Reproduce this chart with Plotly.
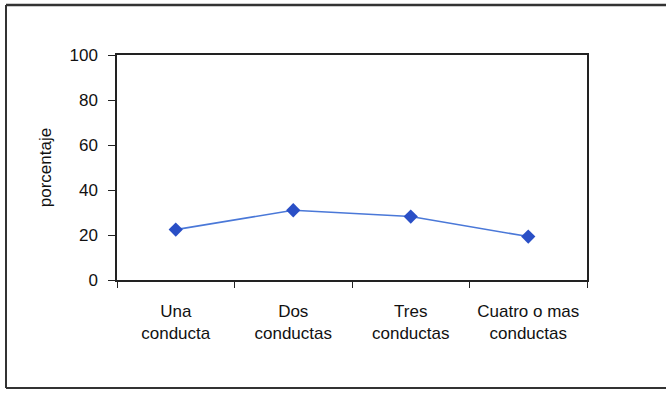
import plotly.graph_objects as go

categories = ["Una<br>conducta", "Dos<br>conductas", "Tres<br>conductas", "Cuatro o mas<br>conductas"]
values = [22.4, 31.0, 28.2, 19.3]
y_ticks = [0, 20, 40, 60, 80, 100]

W, H = 666, 393
L, R, T, B = 117, 587, 55, 280

fig = go.Figure()
fig.add_trace(go.Scatter(
    x=categories, y=values, mode="lines+markers",
    line=dict(color="#4a78d8", width=1.6),
    marker=dict(symbol="diamond", size=11, color="#2a4fc6"),
    showlegend=False,
))

font = dict(family="Liberation Sans, Arial, sans-serif", size=17, color="#111")

fig.update_layout(
    width=W, height=H,
    margin=dict(l=L, r=W - R, t=T, b=H - B, pad=0),
    paper_bgcolor="white", plot_bgcolor="white",
    font=font,
    xaxis=dict(
        type="category", tickson="boundaries", ticks="outside", ticklen=6,
        tickcolor="#222", showline=True, linecolor="#222", linewidth=1.5,
        mirror=True, showgrid=False, tickfont=dict(size=17),
        ticklabelstandoff=15,
        range=[-0.5, 3.5],
    ),
    yaxis=dict(
        range=[0, 100], tickvals=y_ticks, ticks="outside", ticklen=7,
        tickcolor="#222", showline=True, linecolor="#222", linewidth=1.5,
        mirror=True, showgrid=False, zeroline=False, tickfont=dict(size=17),
        ticklabelstandoff=7,
        title=dict(text="porcentaje", font=dict(size=17), standoff=14),
    ),
)

def px_x(p):
    return (p - L) / (R - L)

def px_y(p):
    return (B - p) / (B - T)

border = dict(color="#333", width=2)
# top, left, bottom of outer frame
fig.add_shape(type="line", xref="paper", yref="paper",
              x0=px_x(6), x1=px_x(680), y0=px_y(5), y1=px_y(5), line=dict(color="#333", width=2.5))
fig.add_shape(type="line", xref="paper", yref="paper",
              x0=px_x(6), x1=px_x(6), y0=px_y(5), y1=px_y(388), line=border)
fig.add_shape(type="line", xref="paper", yref="paper",
              x0=px_x(6), x1=px_x(680), y0=px_y(388), y1=px_y(388), line=border)

fig.write_html("out.html", config={"displayModeBar": False},
               post_script="document.body.style.margin='0';")
